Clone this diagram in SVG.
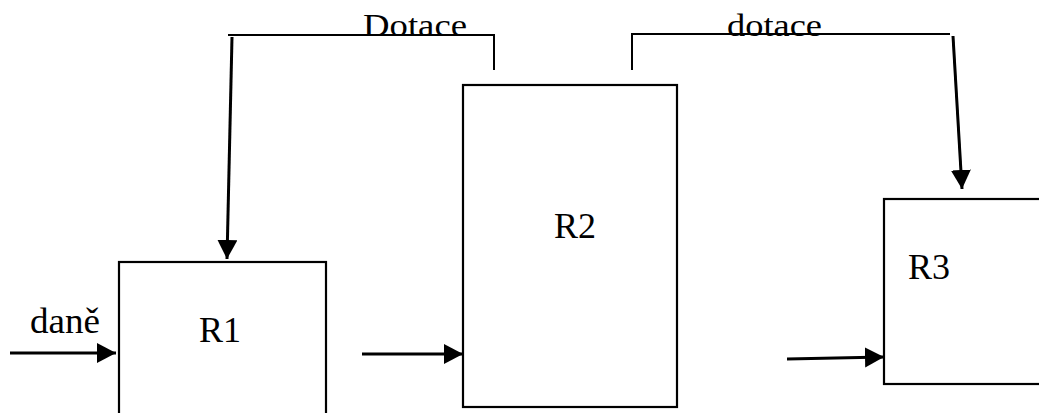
<svg xmlns="http://www.w3.org/2000/svg" width="1039" height="413" viewBox="0 0 1039 413">
<style>
.box{fill:#fff;stroke:#000;stroke-width:2.2}
.ln{fill:none;stroke:#000;stroke-width:3}
.thin{fill:none;stroke:#000;stroke-width:2}
.t{font-family:"Liberation Serif","Times New Roman",serif;font-size:36px;fill:#000}
</style>
<defs>
<marker id="ah" markerUnits="userSpaceOnUse" markerWidth="22" markerHeight="22" refX="19" refY="10" orient="auto" viewBox="0 0 22 22">
<path d="M0,0 L19,10 L0,20 z" fill="#000"/>
</marker>
</defs>
<g id="R1"><rect class="box" x="119" y="262" width="207" height="170"/><text class="t" x="220" y="342" text-anchor="middle">R1</text></g>
<g id="R2"><rect class="box" x="463" y="85" width="214" height="322"/><text class="t" x="575" y="238" text-anchor="middle">R2</text></g>
<g id="R3"><rect class="box" x="884" y="199" width="180" height="185"/><text class="t" x="908" y="279">R3</text></g>
<g id="labels">
<text class="t" x="30" y="333" textLength="70" lengthAdjust="spacingAndGlyphs">daně</text>
<text class="t" x="363" y="36" textLength="104" lengthAdjust="spacingAndGlyphs" style="font-size:32px">Dotace</text>
<text class="t" x="727" y="36" textLength="95" lengthAdjust="spacingAndGlyphs" style="font-size:32px">dotace</text>
</g>
<g id="connectors">
<line class="ln" x1="10" y1="353" x2="116" y2="353" marker-end="url(#ah)"/>
<line class="ln" x1="362" y1="354" x2="463" y2="354" marker-end="url(#ah)"/>
<line class="ln" x1="787" y1="359" x2="884" y2="357" marker-end="url(#ah)"/>
<polyline class="thin" points="494,70 494,35 228,35"/>
<line class="ln" x1="232" y1="37" x2="227" y2="259" marker-end="url(#ah)"/>
<polyline class="thin" points="632,70 632,34 950,34"/>
<line class="ln" x1="953" y1="36" x2="962" y2="189" marker-end="url(#ah)"/>
</g>
</svg>
